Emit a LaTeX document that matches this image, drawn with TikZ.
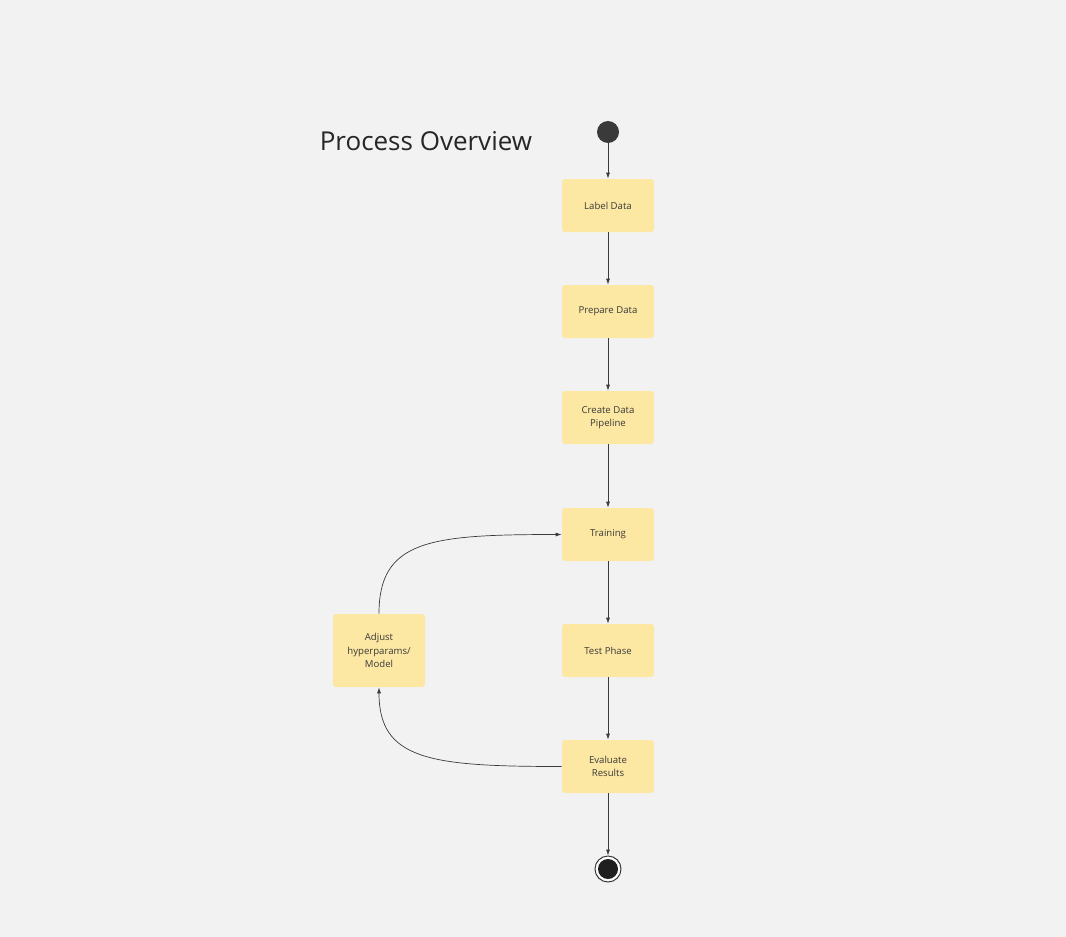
\documentclass[tikz,border=0pt]{standalone}
\usepackage{fontspec}
\setmainfont{Open Sans}
\usetikzlibrary{arrows.meta,positioning}
\definecolor{bgcol}{HTML}{F2F2F2}
\definecolor{boxcol}{HTML}{FCE8A2}
\definecolor{linecol}{HTML}{3A3A3A}
\tikzset{
    >={Latex[length=6pt,width=4pt]},
    every picture/.style={line width=0.7pt},
    stepbox/.style={rectangle,fill=boxcol,rounded corners=3pt,minimum width=92pt,
        minimum height=53pt,inner sep=2pt,align=center,font=\fontsize{9.6}{13.5}\selectfont,text=linecol},
    flow/.style={->,draw=linecol}
}

\begin{document}
\begin{tikzpicture}[x=1pt,y=-1pt]
    \fill[bgcol] (0,0) rectangle (1066,937);
    \useasboundingbox (0,0) rectangle (1066,937);
    \node[font=\fontsize{26}{30}\selectfont,text=black!85] (title) at (426,141) {Process Overview};
    \node[circle,fill=linecol,minimum size=22pt,inner sep=0pt] (start) at (608,132) {};
    \node[stepbox] (label) at (608,205.5) {Label Data};
    \node[stepbox] (prepare) at (608,311.5) {Prepare Data};
    \node[stepbox] (pipeline) at (608,417.5) {Create Data\\Pipeline};
    \node[stepbox] (training) at (608,534.5) {Training};
    \node[stepbox] (test) at (608,650.5) {Test Phase};
    \node[stepbox] (evaluate) at (608,766.5) {Evaluate\\Results};
    \node[stepbox,minimum height=73pt] (adjust) at (379,650.5) {Adjust\\hyperparams/\\Model};
    \node[circle,draw=linecol,line width=1pt,fill=white,minimum size=26pt,inner sep=0pt] (stop) at (608,869) {};
    \node[circle,fill=black!88,minimum size=20pt,inner sep=0pt] at (stop) {};
    % main flow
    \draw[flow] (start) -- (label);
    \draw[flow] (label) -- (prepare);
    \draw[flow] (prepare) -- (pipeline);
    \draw[flow] (pipeline) -- (training);
    \draw[flow] (training) -- (test);
    \draw[flow] (test) -- (evaluate);
    \draw[flow] (evaluate) -- (stop);
    % feedback loop
    \draw[flow] (adjust.north) .. controls (379,540) and (430,534.5) .. (training.west);
    \draw[flow] (evaluate.west) .. controls (430,766.5) and (379,760) .. (adjust.south);
\end{tikzpicture}
\end{document}
